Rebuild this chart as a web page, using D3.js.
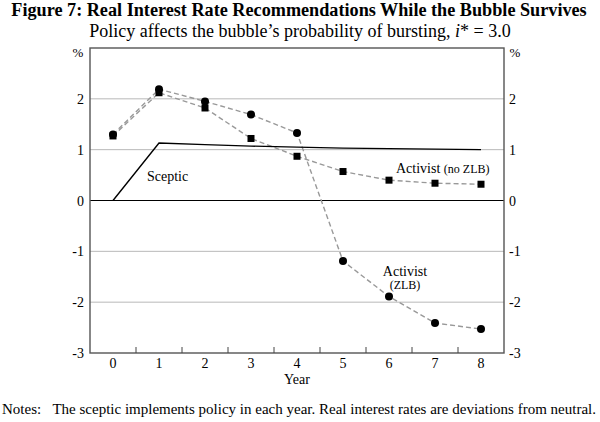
<!DOCTYPE html>
<html>
<head>
<meta charset="utf-8">
<script src="https://cdn.jsdelivr.net/npm/d3@7"></script>
<style>
  body { margin: 0; background: #fff; }
  svg text { font-family: "Liberation Serif", "Times New Roman", serif; fill: #000; }
</style>
</head>
<body>
<div id="chart"></div>
<script>
// Years on the x axis.
var years = [0, 1, 2, 3, 4, 5, 6, 7, 8];

// Series values, per cent deviation from neutral.
var sceptic = [0, 1.13, 1.1, 1.07, 1.05, 1.03, 1.02, 1.01, 1.0];
var activistZlb = [1.3, 2.19, 1.95, 1.69, 1.33, -1.19, -1.89, -2.41, -2.53];
var activistNoZlb = [1.27, 2.12, 1.82, 1.22, 0.87, 0.57, 0.4, 0.34, 0.32];

var yTicks = [-3, -2, -1, 0, 1, 2];

var width = 600;
var height = 422;
var plotLeft = 90, plotRight = 504, plotTop = 48, plotBottom = 353;

var svg = d3.select("#chart")
  .append("svg")
    .attr("width", width)
    .attr("height", height);

var x = d3.scaleBand().domain(years).range([plotLeft, plotRight]);
var y = d3.scaleLinear().domain([-3, 3]).range([plotBottom, plotTop]);

function cx(d) { return x(d) + x.bandwidth() / 2; }

// Titles
svg.append("text")
  .attr("x", 299).attr("y", 16)
  .attr("text-anchor", "middle")
  .style("font-size", "18.2px")
  .style("font-weight", "bold")
  .text("Figure 7: Real Interest Rate Recommendations While the Bubble Survives");

var sub = svg.append("text")
  .attr("x", 300).attr("y", 37)
  .attr("text-anchor", "middle")
  .style("font-size", "18px");
sub.append("tspan").text("Policy affects the bubble\u2019s probability of bursting, ");
sub.append("tspan").style("font-style", "italic").text("i");
sub.append("tspan").text("* = 3.0");

// Gridlines
svg.selectAll("line.grid")
  .data(yTicks.filter(function (d) { return d != 0 && d != -3; }))
  .enter().append("line")
    .attr("class", "grid")
    .attr("x1", plotLeft).attr("x2", plotRight)
    .attr("y1", function (d) { return y(d); })
    .attr("y2", function (d) { return y(d); })
    .attr("stroke", "#b8b8b8")
    .attr("stroke-width", 1);

// Zero line
svg.append("line")
  .attr("x1", plotLeft).attr("x2", plotRight)
  .attr("y1", y(0)).attr("y2", y(0))
  .attr("stroke", "#000").attr("stroke-width", 1.2);

// Plot frame
svg.append("rect")
  .attr("x", plotLeft).attr("y", plotTop)
  .attr("width", plotRight - plotLeft).attr("height", plotBottom - plotTop)
  .attr("fill", "none")
  .attr("stroke", "#555")
  .attr("stroke-width", 1.4);

// X ticks between the years, pointing up
svg.selectAll("line.xtick")
  .data(years.slice(1))
  .enter().append("line")
    .attr("class", "xtick")
    .attr("x1", function (d) { return x(d); })
    .attr("x2", function (d) { return x(d); })
    .attr("y1", plotBottom).attr("y2", plotBottom - 6)
    .attr("stroke", "#444");

svg.selectAll("text.xlab")
  .data(years)
  .enter().append("text")
    .attr("class", "xlab")
    .attr("x", cx)
    .attr("y", plotBottom + 15)
    .attr("text-anchor", "middle")
    .style("font-size", "14px")
    .text(function (d) { return d; });

svg.append("text")
  .attr("x", 297).attr("y", 384)
  .attr("text-anchor", "middle")
  .style("font-size", "14px")
  .text("Year");

// Y labels on both sides
svg.selectAll("text.ylabL")
  .data(yTicks)
  .enter().append("text")
    .attr("class", "ylabL")
    .attr("x", plotLeft - 6)
    .attr("y", function (d) { return y(d) + 5; })
    .attr("text-anchor", "end")
    .style("font-size", "14px")
    .text(function (d) { return d; });

svg.selectAll("text.ylabR")
  .data(yTicks)
  .enter().append("text")
    .attr("class", "ylabR")
    .attr("x", plotRight + 5)
    .attr("y", function (d) { return y(d) + 5; })
    .attr("text-anchor", "start")
    .style("font-size", "14px")
    .text(function (d) { return d; });

svg.append("text").attr("x", 78).attr("y", 57).attr("text-anchor", "middle")
  .style("font-size", "13px").text("%");
svg.append("text").attr("x", 515).attr("y", 57).attr("text-anchor", "middle")
  .style("font-size", "13px").text("%");

// Lines
var line = d3.line()
  .x(function (d, i) { return cx(years[i]); })
  .y(function (d) { return y(d); });

svg.append("path")
  .datum(activistNoZlb)
  .attr("d", line)
  .attr("fill", "none")
  .attr("stroke", "#999")
  .attr("stroke-width", 1.4)
  .attr("stroke-dasharray", "5,3");

svg.append("path")
  .datum(activistZlb)
  .attr("d", line)
  .attr("fill", "none")
  .attr("stroke", "#999")
  .attr("stroke-width", 1.4)
  .attr("stroke-dasharray", "5,3");

svg.append("path")
  .datum(sceptic)
  .attr("d", line)
  .attr("fill", "none")
  .attr("stroke", "#000")
  .attr("stroke-width", 1.4);

// Markers
svg.selectAll("rect.sq")
  .data(activistNoZlb)
  .enter().append("rect")
    .attr("class", "sq")
    .attr("x", function (d, i) { return cx(years[i]) - 3.5; })
    .attr("y", function (d) { return y(d) - 3.5; })
    .attr("width", 7).attr("height", 7)
    .attr("fill", "#000");

svg.selectAll("circle.dot")
  .data(activistZlb)
  .enter().append("circle")
    .attr("class", "dot")
    .attr("cx", function (d, i) { return cx(years[i]); })
    .attr("cy", function (d) { return y(d); })
    .attr("r", 4)
    .attr("fill", "#000");

// Series labels
svg.append("text").attr("x", 147).attr("y", 181)
  .style("font-size", "14px").text("Sceptic");

var nz = svg.append("text").attr("x", 396).attr("y", 173)
  .style("font-size", "14px");
nz.append("tspan").text("Activist ");
nz.append("tspan").style("font-size", "12px").text("(no ZLB)");

svg.append("text").attr("x", 405).attr("y", 276).attr("text-anchor", "middle")
  .style("font-size", "14px").text("Activist");
svg.append("text").attr("x", 405).attr("y", 289).attr("text-anchor", "middle")
  .style("font-size", "12px").text("(ZLB)");

// Notes
svg.append("text").attr("x", 2).attr("y", 414)
  .style("font-size", "15px")
  .text("Notes:\u00a0\u00a0\u00a0The sceptic implements policy in each year. Real interest rates are deviations from neutral.");
</script>
</body>
</html>
